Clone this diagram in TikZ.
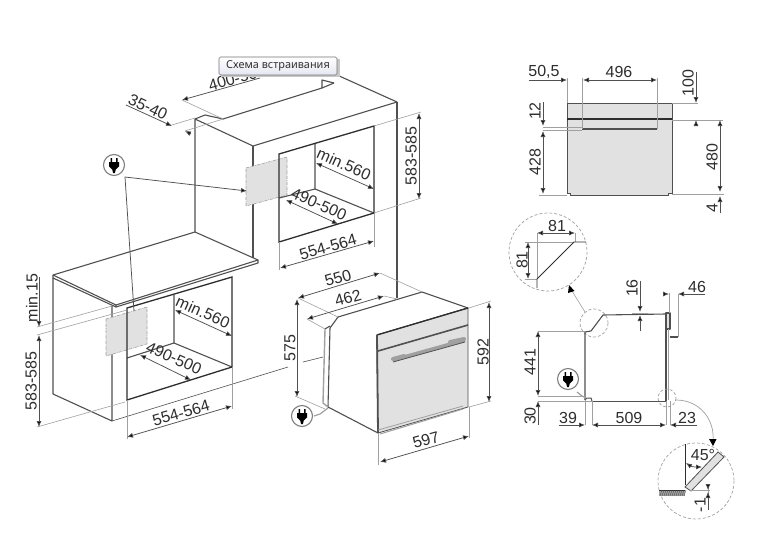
\documentclass[tikz,border=0pt]{standalone}
\usepackage{fontspec}
\setmainfont{Liberation Sans}
\newfontfamily\tipfont{Noto Sans}
\usetikzlibrary{arrows.meta,calc}
\definecolor{ink}{HTML}{2E2E2E}
\definecolor{edge}{HTML}{505050}
\definecolor{ext}{HTML}{A0A0A0}
\definecolor{panel}{HTML}{E1E1E1}
\definecolor{tipb}{HTML}{E6E6F2}
\tikzset{
 x=1pt,y=-1pt,
 outline/.style={draw=edge,line width=1.1pt,line join=round},
 heavy/.style={draw=ink,line width=1.3pt,line join=miter},
 thin ext/.style={draw=ext,line width=0.6pt},
 dimline/.style={draw=edge,line width=0.75pt,arrows={Latex[length=6pt,width=5pt,fill=black]-Latex[length=6pt,width=5pt,fill=black]}},
 dimend/.style={draw=edge,line width=0.75pt,arrows={-Latex[length=6pt,width=5pt,fill=black]}},
 dimtext/.style={font=\fontsize{16}{16}\selectfont,text=ink,inner sep=0pt},
 dashcirc/.style={draw=ext,line width=0.7pt,densely dashed},
 hiddenbox/.style={draw=ext,fill=panel,line width=0.6pt,densely dash dot},
 plugicon/.pic={
  \draw[draw=ext!80!black,fill=white,line width=1.1pt] (0,0) circle (10.5);
  \fill[black] (-3.5,-7) rectangle (-2,-2.5) (2,-7) rectangle (3.5,-2.5);
  \fill[black] (-5,-3) -- (5,-3) -- (5,1.5) -- (1.8,4.5) -- (0.9,8) -- (-0.9,8) -- (-1.8,4.5) -- (-5,1.5) -- cycle;
 }
}
\begin{document}
\begin{tikzpicture}
\useasboundingbox (0,0) rectangle (760,541);
\fill[white] (0,0) rectangle (760,541);

% ---------- upper cabinet
\path[outline] (195,119) -- (205,115) -- (223,119) -- (322,88) -- (322,80) -- (334,83);
\path[outline] (322,88) -- (334,83);
\path[outline] (337,75) -- (397,102) -- (253,146) -- (195,119) -- (195,232);
\path[outline] (253,146) -- (253,258);
\path[outline] (397,102) -- (397,298);
\path[hiddenbox] (246,168) -- (287,157) -- (287,195) -- (246,206) -- cycle;
\path[outline] (315,144) -- (315,189) -- (374,213);
\path[outline] (315,189) -- (279,198);
\path[heavy] (279,154) -- (374,126) -- (374,213) -- (279,242) -- cycle;

% ---------- counter and lower cabinet
\path[outline] (53,275) -- (195,232) -- (258,260) -- (258,263) -- (116,307) -- (53,278) -- cycle;
\path[outline] (116,305) -- (258,260);
\path[outline] (53,275) -- (116,305) -- (116,307);
\path[outline] (53,278) -- (53,394) -- (112,421) -- (112,306);
\path[thin ext,draw=edge] (112,421) -- (288,367);
\path[thin ext,draw=edge] (303,362) -- (323,357);
\path[hiddenbox] (106,319) -- (147,307) -- (147,344) -- (106,356) -- cycle;
\path[outline] (174,295) -- (174,343) -- (232,367);
\path[outline] (174,343) -- (127,358);
\path[heavy] (127,308) -- (232,277) -- (232,367) -- (127,400) -- cycle;

% ---------- plug leaders
\pic at (114,165) {plugicon};
\draw[dimend] (134,311) -- (125,177) -- (247,191);

% ---------- dims, upper cabinet
\path[thin ext] (172,125) -- (195,118);
\path[thin ext] (185,131) -- (223,119);
\path[thin ext] (182,100) -- (223,119);
\draw[dimend] (126,105) -- (172,126);
\draw[dimend] (191,134) -- (185,131);
\node[dimtext,rotate=-25] (d3540) at (148,107) {35-40};
\draw[dimend] (260,78) -- (182,100);
\node[dimtext,rotate=16] (d400) at (237,78) {400-500};
\path[thin ext] (374,126) -- (421,112);
\path[thin ext] (374,213) -- (421,198);
\draw[dimline] (419,113) -- (419,199);
\node[dimtext,rotate=90] (d583u) at (411,156) {583-585};
\draw[dimline] (316,163) -- (374,189);
\node[dimtext,rotate=-24] (d560u) at (344,164) {min.560};
\draw[dimline] (286,200) -- (338,224);
\node[dimtext,rotate=-24] (d490u) at (319,204) {490-500};
\path[thin ext] (279,242) -- (279,270);
\path[thin ext] (374,213) -- (374,247);
\draw[dimline] (280,268) -- (374,241);
\node[dimtext,rotate=16] (d554u) at (328,247) {554-564};

% ---------- dims, lower cabinet
\path[thin ext] (37,327) -- (112,306);
\path[thin ext] (37,335) -- (127,310);
\path[thin ext] (37,427) -- (125,402);
\draw[dimend] (39,277) -- (39,327);
\draw[dimline] (39,335) -- (39,427);
\node[dimtext,rotate=90] (d15) at (32,298) {min.15};
\node[dimtext,rotate=90] (d583l) at (31,381) {583-585};
\draw[dimline] (175,310) -- (232,336);
\node[dimtext,rotate=-24] (d560l) at (203,312) {min.560};
\draw[dimline] (140,355) -- (191,380);
\node[dimtext,rotate=-24] (d490l) at (174,358) {490-500};
\path[thin ext] (127,400) -- (127,439);
\path[thin ext] (232,367) -- (232,409);
\draw[dimline] (127,437) -- (232,406);
\node[dimtext,rotate=16] (d554l) at (181,413) {554-564};

% ---------- oven, perspective
\path[outline,fill=white] (338,317) -- (422,292) -- (468,308) -- (377,335) -- (378,433) -- (328,407) -- (330,328) -- cycle;
\path[outline] (325,329) -- (330,326);
\path[outline,draw=ext,line width=1.4pt] (325,329) -- (323,403) -- (328,407);
\path[draw=edge,line width=0.8pt,fill=panel] (377,335) -- (468,308) -- (468,407) -- (378,433) -- cycle;
\path[draw=ink,line width=1.3pt] (377,335) -- (468,308);
\path[draw=edge,line width=1.8pt] (377,335) -- (378,433);
\path[draw=edge,line width=1.6pt] (378,351) -- (468,325);
\path[draw=ext,line width=3.5pt] (393,360) -- (465,340);
\path[draw=ext,line width=4pt,line cap=round] (393,359) -- (404,356) (450,342) -- (464,339);
\path[draw=edge,line width=0.8pt] (393,362) -- (465,342);
\path[draw=ext,line width=1pt] (380,434) -- (463,409);
\path[draw=ext,line width=0.8pt] (378,430) -- (463,406);

\path[thin ext] (380,273) -- (422,292);
\path[thin ext] (298,298) -- (338,317);
\draw[dimline] (298,298) -- (380,273);
\node[dimtext,rotate=16] (d550) at (338,278) {550};
\path[thin ext] (307,319) -- (325,329);
\path[thin ext] (384,296) -- (397,299);
\draw[dimline] (307,319) -- (384,296);
\node[dimtext,rotate=16] (d462) at (348,298) {462};
\path[thin ext] (295,396) -- (325,409);
\draw[dimline] (297,299) -- (297,397);
\node[dimtext,rotate=90] (d575) at (290,348) {575};
\path[thin ext] (469,308) -- (491,301);
\path[thin ext] (469,407) -- (491,401);
\draw[dimline] (489,302) -- (489,402);
\node[dimtext,rotate=90] (d592) at (483,352) {592};
\path[thin ext] (378,433) -- (378,465);
\path[thin ext] (469,407) -- (469,438);
\draw[dimline] (380,462) -- (469,436);
\node[dimtext,rotate=16] (d597) at (426,440) {597};
\path[draw=ext,line width=1.2pt] (314,416) -- (320,414) -- (328,408);
\pic at (302,416) {plugicon};

% ---------- front elevation
\path[draw=edge,line width=1pt,fill=panel] (567,103) rectangle (672,193);
\path[draw=edge,line width=1pt,fill=panel] (570,193) -- (570,195) -- (668,195) -- (668,193);
\path[draw=ink,line width=1.2pt] (567,119) -- (672,119);
\path[draw=edge,line width=2pt] (582,129) -- (657,129);
\path[thin ext] (567,103) -- (567,78);
\path[thin ext] (582,129) -- (582,78);
\path[thin ext] (657,129) -- (657,78);
\draw[dimend] (529,80) -- (567,80);
\draw[dimline] (583,80) -- (657,80);
\node[dimtext] (d505) at (544,72) {50,5};
\node[dimtext] (d496) at (619,72) {496};
\path[thin ext] (672,103) -- (698,103);
\path[thin ext] (672,120) -- (723,120);
\path[thin ext] (672,194.5) -- (724,194.5);
\draw[dimend] (696,72) -- (696,103);
\draw[dimend] (696,125) -- (696,120);
\node[dimtext,rotate=90] (d100) at (688,83) {100};
\draw[dimline] (720,120) -- (720,192);
\node[dimtext,rotate=90] (d480) at (712,157) {480};
\draw[dimend] (720,213) -- (720,196);
\node[dimtext,rotate=90] (d4) at (712,208) {4};
\path[thin ext] (543,127) -- (582,127);
\path[thin ext] (543,130) -- (582,130);
\path[thin ext] (539,195) -- (567,195);
\draw[dimend] (543,102) -- (543,126);
\draw[dimline] (543,131) -- (543,194);
\node[dimtext,rotate=90] (d12) at (535,111) {12};
\node[dimtext,rotate=90] (d428) at (535,162) {428};

% ---------- detail circle 81
\path[dashcirc] (548,252) circle (39);
\path[thin ext] (537,279) -- (537,233);
\path[thin ext] (525,242) -- (574,242);
\path[thin ext] (525,279) -- (537,279);
\path[thin ext] (575,233) -- (575,242);
\path[draw=ink,line width=0.9pt] (537,288) -- (537,279) -- (574,242) -- (586,242);
\draw[dimline] (537,233) -- (575,233);
\draw[dimline] (528,242) -- (528,279);
\node[dimtext] (d81a) at (557,226) {81};
\node[dimtext,rotate=90] (d81b) at (522,260) {81};
\path[thin ext] (585,312) -- (572,291);
\fill[black] (569,285) -- (574.5,291) -- (568,293) -- cycle;

% ---------- side section
\path[dashcirc] (594,323) circle (14);
\path[outline] (585,400) -- (585,332) -- (591,331) -- (603,315) -- (666,314);
\path[outline,fill=panel] (666,313) rectangle (670,329);
\path[draw=edge,line width=1.6pt] (666,313) -- (666,401);
\path[draw=ext,line width=1pt] (668,329) -- (668,400);
\path[outline] (670,337) -- (678,337);
\path[thin ext] (678,294) -- (678,337);
\path[thin ext] (669,293) -- (669,313);
\draw[dimend] (663,294) -- (669,294);
\draw[dimend] (705,294) -- (678,294);
\node[dimtext] (d46) at (697,287) {46};
\draw[dimend] (640,281) -- (640,312);
\draw[dimend] (640,331) -- (640,315);
\path[thin ext] (632,313) -- (648,313);
\node[dimtext,rotate=90] (d16) at (632,288) {16};
\path[thin ext] (538,331) -- (585,331);
\path[thin ext] (538,396.5) -- (585,396.5);
\path[thin ext] (538,401) -- (592,401);
\draw[dimline] (538,331) -- (538,396);
\draw[dimend] (538,425) -- (538,401);
\node[dimtext,rotate=90] (d441) at (530,362) {441};
\node[dimtext,rotate=90] (d30) at (530,416) {30};
\path[draw=edge,line width=1pt] (592,401) -- (667,401);
\path[draw=edge,line width=1pt] (585,400) -- (587,398) -- (591,398) -- (592,401);
\path[draw=ext,line width=1.2pt] (577,392) -- (582,396) -- (586,398);
\pic at (568,379) {plugicon};
\path[thin ext] (585,400) -- (585,425);
\path[thin ext] (592,401) -- (592,425);
\path[thin ext] (666,401) -- (666,425);
\path[thin ext] (670,401) -- (670,425);
\draw[dimend] (559,425) -- (585,425);
\draw[dimline] (592,425) -- (666,425);
\draw[dimend] (697,425) -- (670,425);
\node[dimtext] (d39) at (568,418) {39};
\node[dimtext] (d509) at (629,418) {509};
\node[dimtext] (d23) at (687,418) {23};
\path[dashcirc] (667,398) circle (9);
\path[draw=ext,line width=0.7pt] (676,400) .. controls (700,400) and (715,420) .. (713,441);
\fill[black] (713,446) -- (709,439) -- (716.5,439) -- cycle;

% ---------- detail circle 45
\path[dashcirc] (696,481) circle (38);
\path[draw=ink,line width=0.9pt] (685,444) -- (685,485);
\path[draw=edge,line width=0.8pt,fill=panel] (685,487) -- (718,452) -- (724,457) -- (691,491) -- cycle;
\path[fill=ext] (659,490) rectangle (685,496);
\path[draw=ink,line width=0.8pt] (659,490) -- (685,490);
\foreach \hx in {660,662,...,684} {\path[draw=edge,line width=0.4pt] (\hx,496) -- (\hx+2,490);}
\path[thin ext] (690,490) -- (710,490);
\path[thin ext] (708,484) -- (708,510);
\draw[dimline] (686,463) .. controls (692,467) and (697,467) .. (702,467);
\node[dimtext] (d45) at (703,455) {45°};
\draw[dimend] (708,484) -- (708,490);
\draw[dimend] (708,510) -- (708,492);
\node[dimtext,rotate=90] (dm1) at (700,505) {-1};

% ---------- tooltip
\fill[black!22] (221,59) rectangle (339.5,77);
\node[draw=black!55,line width=0.6pt,rounded corners=1.5pt,top color=white,bottom color=tipb,minimum width=118pt,minimum height=18pt,inner sep=0pt,font=\tipfont\fontsize{10.9}{11}\selectfont,text=black!80] (tip) at (278,66) {Схема встраивания};
\end{tikzpicture}
\end{document}
